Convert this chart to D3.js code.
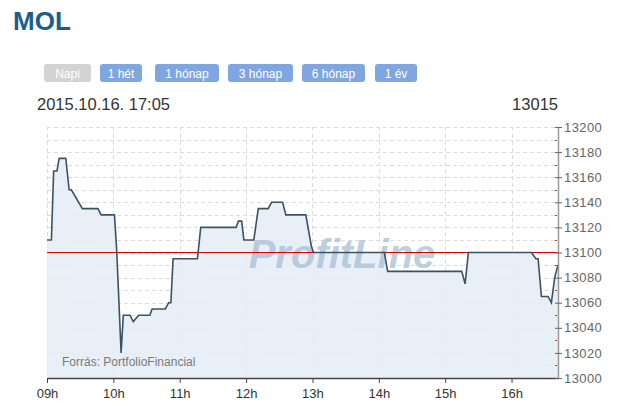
<!DOCTYPE html>
<html><head><meta charset="utf-8">
<script src="https://cdn.jsdelivr.net/npm/d3@7"></script>
<style>
body{margin:0;background:#fff;font-family:Arial,"Liberation Sans",sans-serif;}
svg{display:block;}
</style></head>
<body>
<svg id="c" width="621" height="408"></svg>
<script>
const title = "MOL";
const buttons = ["Napi","1 hét","1 hónap","3 hónap","6 hónap","1 év"];
const stamp = "2015.10.16. 17:05";
const lastValue = "13015";
const source = "Forrás: PortfolioFinancial";
const refValue = 13100;
const hourLabels = ["09h","10h","11h","12h","13h","14h","15h","16h"];
const yTicks = [13000,13020,13040,13060,13080,13100,13120,13140,13160,13180,13200];
const times = ["09:00","09:04","09:06","09:09","09:11","09:17","09:20","09:22","09:32","09:46","09:49","10:01","10:03","10:07","10:09","10:15","10:18","10:23","10:33","10:35","10:47","10:50","10:52","10:54","11:16","11:19","11:51","11:53","11:56","11:58","12:07","12:11","12:20","12:23","12:33","12:36","12:54","12:59","13:01","14:05","14:08","15:15","15:18","15:21","16:18","16:22","16:24","16:27","16:33","16:36","16:39","16:42"];
const values = [13110,13110,13165,13165,13175,13175,13150,13150,13135,13135,13130,13130,13102,13020,13050,13050,13045,13050,13050,13055,13055,13060,13060,13095,13095,13120,13120,13125,13125,13110,13110,13135,13135,13140,13140,13130,13130,13105,13100,13100,13085,13085,13075,13100,13100,13095,13095,13065,13065,13060,13080,13090];

const svg = d3.select("#c");
const parse = t => { const [h,m] = t.split(":").map(Number); return new Date(2015,9,16,h,m); };
const data = times.map((t,i)=>({t:parse(t), v:values[i]}));

const L=47, R=558, T=127, B=378;
const x = d3.scaleTime().domain([parse("09:00"), parse("16:42")]).range([L,R]);
const y = d3.scaleLinear().domain([13000,13200]).range([B,T]);

// header
svg.append("text").attr("x",13).attr("y",30).attr("font-size",26).attr("font-weight","bold")
  .attr("fill","#1d5c8d").text(title);

const btnX = [44,100,155,228,302,375];
const btnW = [47,42,64,65,63,42];
const bg = svg.append("g");
buttons.forEach((b,i)=>{
  bg.append("rect").attr("x",btnX[i]).attr("y",64).attr("width",btnW[i]).attr("height",18).attr("rx",3)
    .attr("fill", i===0 ? "#d3d3d3" : "#7fa6e0");
  bg.append("text").attr("x",btnX[i]+btnW[i]/2).attr("y",77.5).attr("text-anchor","middle")
    .attr("font-size",12).attr("fill","#fff").text(b);
});

svg.append("text").attr("x",37).attr("y",110).attr("font-size",16.5).attr("fill","#333").text(stamp);
svg.append("text").attr("x",558).attr("y",110).attr("font-size",16.5).attr("fill","#333").attr("text-anchor","end").text(lastValue);

// grid
const grid = svg.append("g").attr("stroke","#dcdcdc").attr("stroke-dasharray","4,3").attr("stroke-width",1);
d3.range(13010,13201,10).forEach(v=>{
  grid.append("line").attr("x1",L).attr("x2",R).attr("y1",Math.round(y(v))+0.5).attr("y2",Math.round(y(v))+0.5);
});
const hours = d3.range(9,17).map(h=>new Date(2015,9,16,h,0));
hours.forEach(h=>{
  grid.append("line").attr("x1",Math.round(x(h))+0.5).attr("x2",Math.round(x(h))+0.5).attr("y1",T).attr("y2",B);
});

// area + line
const area = d3.area().x(d=>x(d.t)).y0(B).y1(d=>y(d.v));
svg.append("path").datum(data).attr("d",area).attr("fill","#e6edf6").attr("fill-opacity",0.9);

// watermark
svg.append("text").attr("x",342).attr("y",268).attr("text-anchor","middle").attr("font-size",40)
  .attr("font-weight","bold").attr("font-style","italic").attr("fill","#a9bfd3").attr("fill-opacity",0.75)
  .text("ProfitLine");

// reference line
svg.append("line").attr("x1",L).attr("x2",R).attr("y1",y(refValue)).attr("y2",y(refValue))
  .attr("stroke","#d40000").attr("stroke-width",1.2);

const line = d3.line().x(d=>x(d.t)).y(d=>y(d.v));
svg.append("path").datum(data).attr("d",line).attr("fill","none").attr("stroke","#3c5265").attr("stroke-width",1.6);

// source
svg.append("text").attr("x",62).attr("y",366).attr("font-size",12).attr("fill","#7a7a7a").text(source);

// x axis
const xa = svg.append("g").attr("transform",`translate(0,${B})`)
  .call(d3.axisBottom(x).tickValues(hours).tickSize(5).tickSizeOuter(0).tickFormat((d,i)=>hourLabels[i]));
xa.select(".domain").attr("stroke","#444").attr("stroke-width",1.5);
xa.selectAll(".tick line").attr("stroke","#444");
xa.selectAll(".tick text").attr("font-size",13).attr("fill","#333").attr("font-family","Arial,'Liberation Sans',sans-serif").attr("dy","0.9em");

// y axis right
const ya = svg.append("g").attr("transform",`translate(${R},0)`)
  .call(d3.axisRight(y).tickValues(yTicks).tickSize(4).tickSizeOuter(0).tickFormat(d3.format("d")));
ya.select(".domain").attr("stroke","#999").attr("stroke-width",1.5);
ya.selectAll(".tick line").attr("stroke","#666").attr("x1",-3);
ya.selectAll(".tick text").attr("font-size",13).attr("fill","#666").attr("font-family","Arial,'Liberation Sans',sans-serif").attr("x",6).attr("letter-spacing",0.4);
d3.range(13010,13200,20).forEach(v=>{
  svg.append("line").attr("x1",R-3).attr("x2",R-1).attr("y1",Math.round(y(v))+0.5).attr("y2",Math.round(y(v))+0.5)
    .attr("stroke","#d03030").attr("stroke-width",1);
});
</script>
</body></html>
